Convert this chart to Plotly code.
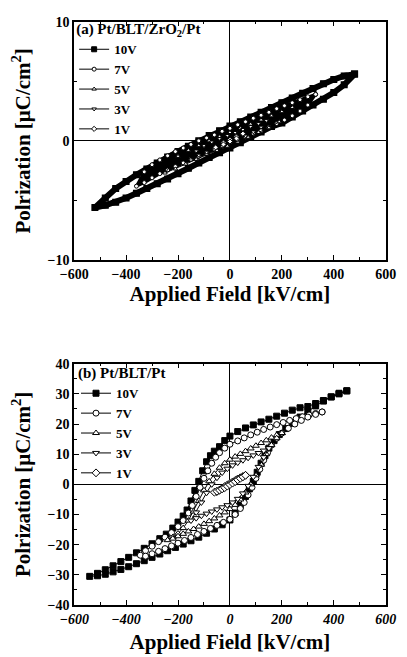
import plotly.graph_objects as go

# ---------------- Panel (a): Pt/BLT/ZrO2/Pt ----------------
A10_E = [480, 440, 400, 360, 320, 280, 240, 200, 160, 120, 80, 40, 0, -40, -80, -120, -160, -200, -240, -280,
         -320, -360, -400, -440, -480, -520,
         -480, -440, -400, -360, -320, -280, -240, -200, -160, -120, -80, -40, 0, 40, 80, 120, 160, 200, 240,
         280, 320, 360, 400, 440, 480]
A10_P = [5.6, 5.45, 5.15, 4.8, 4.4, 4.0, 3.6, 3.2, 2.8, 2.4, 2.0, 1.6, 1.25, 0.85, 0.45, 0.0, -0.45, -0.9, -1.35,
         -1.85, -2.35, -2.85, -3.4, -4.0, -4.8, -5.6,
         -5.4, -5.15, -4.8, -4.4, -4.0, -3.6, -3.2, -2.75, -2.3, -1.85, -1.4, -1.0, -0.6, -0.15, 0.3, 0.75, 1.2,
         1.5, 2.0, 2.5, 3.0, 3.5, 4.05, 4.7, 5.6]

A7_E = [330, 300, 270, 240, 210, 180, 150, 120, 90, 60, 30, 0, -30, -60, -90, -120, -150, -180, -210, -240,
        -270, -300, -330, -360,
        -330, -300, -270, -240, -210, -180, -150, -120, -90, -60, -30, 0, 30, 60, 90, 120, 150, 180, 210, 240,
        270, 300, 330]
A7_P = [3.9, 3.7, 3.45, 3.2, 2.95, 2.7, 2.4, 2.15, 1.9, 1.6, 1.35, 1.05, 0.8, 0.5, 0.25, 0.0, -0.3, -0.6, -0.9,
        -1.25, -1.6, -2.0, -2.6, -3.8,
        -3.5, -3.1, -2.75, -2.45, -2.15, -1.85, -1.55, -1.3, -1.0, -0.75, -0.5, -0.2, 0.05, 0.3, 0.6, 0.85, 1.15,
        1.45, 1.75, 2.1, 2.5, 3.0, 3.9]

A5_E = [240, 200, 160, 120, 80, 40, 0, -40, -80, -120, -160, -200, -250,
        -210, -170, -130, -90, -50, -10, 30, 70, 110, 150, 190, 240]
A5_P = [2.8, 2.45, 2.1, 1.75, 1.4, 1.05, 0.7, 0.35, 0.0, -0.4, -0.8, -1.3, -2.7,
        -2.35, -1.95, -1.55, -1.15, -0.8, -0.45, -0.1, 0.3, 0.7, 1.1, 1.6, 2.8]

A3_E = [140, 110, 80, 50, 20, -10, -40, -70, -100, -130, -150,
        -120, -90, -60, -30, 0, 30, 60, 90, 120, 140]
A3_P = [1.7, 1.45, 1.2, 0.95, 0.7, 0.45, 0.2, -0.1, -0.4, -0.85, -1.6,
        -1.2, -0.95, -0.7, -0.45, -0.2, 0.1, 0.4, 0.75, 1.15, 1.7]

A1_E = [50, 25, 0, -25, -55, -25, 0, 25, 50]
A1_P = [0.6, 0.35, 0.1, -0.15, -0.55, -0.3, -0.05, 0.2, 0.6]

# ---------------- Panel (b): Pt/BLT/Pt ----------------
B10_E = [450, 420, 390, 360, 330, 300, 270, 240, 210, 180, 150, 120, 90, 60, 30, 0,
         -20, -40, -60, -75, -90, -105, -120, -135, -150, -165, -180,
         -200, -220, -245, -270, -300, -330, -360, -390, -420, -450, -480, -510, -540,
         -510, -480, -450, -420, -390, -360, -330, -300, -270, -240, -210, -180, -150, -120, -90, -60, -30, 0,
         20, 40, 60, 75, 90, 105, 120, 135, 150, 170, 190, 215, 240, 270, 300, 330, 360, 390, 420, 450]
B10_P = [31, 30, 29, 27.8, 26.8, 25.8, 25.4, 24.6, 23.6, 22.6, 21.6, 20.7, 19.7, 18.7, 17.5, 16,
         14.5, 12.5, 11, 9.5, 7.5, 4.5, 1, -2, -5.5, -8.5, -10.5,
         -12.5, -14.5, -16.5, -18, -19.7, -21.2, -22.7, -24.2, -25.6, -27, -28.3, -29.5, -30.5,
         -30.3, -29.8, -29, -28.2, -27.3, -26.3, -25.3, -24.2, -23.1, -22, -20.9, -19.8, -18.7, -17.5, -16.2,
         -14.8, -13.4, -11.8,
         -9.5, -7, -4, -1.5, 1, 4, 7, 9.5, 12, 14.5, 16.5, 18.5, 20.3, 22.3, 24.2, 26, 27.6, 29, 30.2, 31]

B7_E = [355, 330, 305, 280, 255, 230, 205, 180, 155, 130, 105, 80, 55, 30, 0,
        -20, -40, -55, -70, -85, -100, -115, -130, -145, -160, -180, -200, -225, -250, -275, -300, -325, -345,
        -325, -300, -275, -250, -225, -200, -175, -150, -125, -100, -75, -50, -25, 0,
        20, 40, 55, 70, 85, 100, 115, 130, 145, 160, 180, 200, 225, 250, 275, 300, 330, 355]
B7_P = [24, 23.5, 23, 22.4, 21.8, 21.2, 20.5, 19.8, 19, 18.2, 17.3, 16.4, 15.4, 14.4, 13.3,
        12, 10.5, 9, 7, 4.5, 2, -1, -4, -7, -9.5, -12, -14, -16, -17.5, -19, -20.5, -22, -23.5,
        -23.8, -23, -22.2, -21.3, -20.4, -19.5, -18.6, -17.6, -16.6, -15.6, -14.6, -13.6, -12.6, -11.6,
        -10, -8, -6, -3.5, -1, 2, 5, 8, 10.5, 13, 15.3, 17, 18.6, 20, 21.2, 22.3, 23.2, 24]

B5_E = [200, 180, 160, 140, 120, 100, 80, 60, 40, 20, 0, -20, -40, -60, -80, -100, -120, -140, -160, -180,
        -200, -220, -240,
        -220, -200, -180, -160, -140, -120, -100, -80, -60, -40, -20, 0, 20, 40, 60, 80, 100, 120, 140, 160,
        180, 200]
B5_P = [17, 16.3, 15.5, 14.6, 13.7, 12.8, 11.9, 11, 10.1, 9.2, 8.2, 7, 5.5, 3.5, 1, -2, -5.5, -9, -12, -14.5,
        -16.3, -17.5, -18.5,
        -18, -17.2, -16.4, -15.6, -14.8, -14, -13.1, -12.2, -11.3, -10.3, -9.3, -8.2, -6.8, -5, -2.7, 0, 3, 6.5,
        10, 13, 15.3, 17]

B3_E = [150, 130, 110, 90, 70, 50, 30, 10, -10, -30, -50, -70, -90, -110, -130, -150,
        -130, -110, -90, -70, -50, -30, -10, 10, 30, 50, 70, 90, 110, 130, 150]
B3_P = [12, 11.2, 10.4, 9.6, 8.8, 8, 7.2, 6.3, 5.2, 3.9, 2.2, 0, -2.8, -6, -9.3, -12,
        -11.2, -10.4, -9.7, -9, -8.3, -7.6, -6.9, -6, -4.8, -3, -0.5, 2.5, 5.8, 9, 12]

B1_E = [60, 50, 40, 30, 20, 10, 0, -10, -20, -30, -40, -50, -60,
        -50, -40, -30, -20, -10, 0, 10, 20, 30, 40, 50, 60]
B1_P = [3, 2.6, 2.2, 1.8, 1.3, 0.8, 0.3, -0.2, -0.7, -1.3, -1.9, -2.4, -2.6,
        -2.3, -1.9, -1.5, -1.1, -0.6, -0.1, 0.4, 0.9, 1.5, 2.0, 2.5, 3]

LABELS = ["10V", "7V", "5V", "3V", "1V"]
SYMBOLS = ["square", "circle", "triangle-up", "triangle-down", "diamond"]
FILLS = ["black", "white", "white", "white", "white"]

X_TICKS = [-600, -400, -200, 0, 200, 400, 600]
YA_TICKS = [-10, 0, 10]
YB_TICKS = [-40, -30, -20, -10, 0, 10, 20, 30, 40]

SERIF = "Liberation Serif, Times New Roman, serif"

fig = go.Figure()

panelA = [(A10_E, A10_P), (A7_E, A7_P), (A5_E, A5_P), (A3_E, A3_P), (A1_E, A1_P)]
panelB = [(B10_E, B10_P), (B7_E, B7_P), (B5_E, B5_P), (B3_E, B3_P), (B1_E, B1_P)]

# dense, overlapping data points of panel (a) render as a solid dark band
fig.add_trace(go.Scatter(x=A10_E, y=A10_P, mode="lines+markers", line=dict(color="black", width=6),
                         marker=dict(symbol="square", size=7, color="black"),
                         showlegend=False, hoverinfo="skip", xaxis="x", yaxis="y"))
fig.add_trace(go.Scatter(x=A7_E, y=A7_P, mode="lines", fill="toself", fillcolor="black",
                         line=dict(color="black", width=3),
                         showlegend=False, hoverinfo="skip", xaxis="x", yaxis="y"))
for i, (e, p) in enumerate(panelA):
    fig.add_trace(go.Scatter(
        x=e, y=p, mode="lines+markers", name=LABELS[i], legend="legend",
        line=dict(color="black", width=1),
        marker=dict(symbol=SYMBOLS[i], size=5 if i == 0 else 4, color=FILLS[i],
                    line=dict(color="black", width=1)),
        xaxis="x", yaxis="y"))

for i, (e, p) in enumerate(panelB):
    fig.add_trace(go.Scatter(
        x=e, y=p, mode="lines+markers", name=LABELS[i], legend="legend2",
        line=dict(color="black", width=1),
        marker=dict(symbol=SYMBOLS[i], size=6, color=FILLS[i],
                    line=dict(color="black", width=1)),
        xaxis="x2", yaxis="y2"))

tickfont = dict(family=SERIF, size=14, color="black", weight="bold")
titlefont = dict(family=SERIF, size=21, color="black", weight="bold")

common = dict(showgrid=False, ticks="inside", ticklen=5, tickwidth=1, tickcolor="black",
              showline=True, linecolor="black", linewidth=1.5, mirror="ticks",
              zeroline=True, zerolinecolor="black", zerolinewidth=1)

legfont = dict(family=SERIF, size=13, color="black", weight="bold")
legtitle = dict(family=SERIF, size=15, color="black", weight="bold")

fig.update_layout(
    width=407, height=657, margin=dict(l=0, r=0, t=0, b=0),
    paper_bgcolor="white", plot_bgcolor="white",
    showlegend=True,
    xaxis=dict(domain=[0.1548, 0.9705], anchor="y", range=[-600, 600], tickvals=X_TICKS,
               tickfont=tickfont, minor=dict(ticks="inside", ticklen=3, dtick=100, tick0=0, tickcolor="black"),
               title=dict(text="Applied Field [kV/cm]", font=titlefont, standoff=0), **common),
    yaxis=dict(domain=[0.6058, 0.9772], anchor="x", range=[-10, 10], tickvals=YA_TICKS,
               tickfont=tickfont, minor=dict(ticks="inside", ticklen=3, dtick=5, tick0=0, tickcolor="black"),
               title=dict(text="Polrization [μC/cm<sup>2</sup>]", font=titlefont, standoff=11), **common),
    xaxis2=dict(domain=[0.1548, 0.9705], anchor="y2", range=[-600, 600], tickvals=X_TICKS,
                tickfont=dict(family=SERIF, size=14, color="black", weight="bold", style="italic"),
                minor=dict(ticks="inside", ticklen=3, dtick=100, tick0=0, tickcolor="black"),
                title=dict(text="Applied Field [kV/cm]", font=titlefont, standoff=9), **common),
    yaxis2=dict(domain=[0.0685, 0.4444], anchor="x2", range=[-40, 40], tickvals=YB_TICKS,
                tickfont=tickfont, minor=dict(ticks="inside", ticklen=3, dtick=5, tick0=0, tickcolor="black"),
                title=dict(text="Polrization [μC/cm<sup>2</sup>]", font=titlefont, standoff=11), **common),
    legend=dict(x=63 / 407, y=1 - 8 / 657, xanchor="left", yanchor="top", bgcolor="rgba(0,0,0,0)",
                font=legfont, itemwidth=30,
                title=dict(text="(a) Pt/BLT/ZrO<sub>2</sub>/Pt", side="top", font=legtitle),
                traceorder="normal"),
    legend2=dict(x=65 / 407, y=1 - 360 / 657, xanchor="left", yanchor="top", bgcolor="rgba(0,0,0,0)",
                 font=legfont, itemwidth=30,
                 title=dict(text="(b) Pt/BLT/Pt", side="top", font=legtitle),
                 traceorder="normal"),
)

fig.write_html("out.html")
